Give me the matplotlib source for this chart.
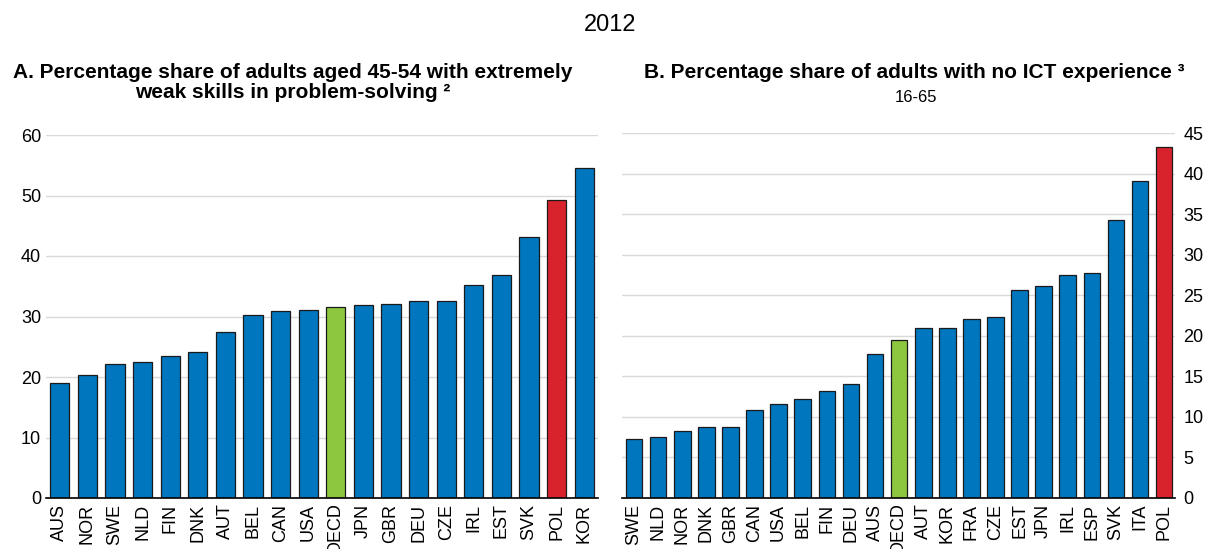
import matplotlib
matplotlib.use('Agg')
import matplotlib.pyplot as plt
import numpy as np

plt.rcParams['font.family'] = ['Liberation Sans', 'DejaVu Sans']

# panel A: adults aged 45-54 with extremely weak problem-solving skills
countries_a = ['AUS', 'NOR', 'SWE', 'NLD', 'FIN', 'DNK', 'AUT', 'BEL', 'CAN', 'USA',
               'OECD', 'JPN', 'GBR', 'DEU', 'CZE', 'IRL', 'EST', 'SVK', 'POL', 'KOR']
values_a = [19.0, 20.3, 22.2, 22.4, 23.5, 24.2, 27.5, 30.3, 30.9, 31.0,
            31.5, 31.9, 32.1, 32.5, 32.6, 35.2, 36.8, 43.1, 49.2, 54.5]

# panel B: adults with no ICT experience, 16-65
countries_b = ['SWE', 'NLD', 'NOR', 'DNK', 'GBR', 'CAN', 'USA', 'BEL', 'FIN', 'DEU',
               'AUS', 'OECD', 'AUT', 'KOR', 'FRA', 'CZE', 'EST', 'JPN', 'IRL', 'ESP',
               'SVK', 'ITA', 'POL']
values_b = [7.3, 7.5, 8.3, 8.8, 8.8, 10.8, 11.6, 12.2, 13.2, 14.0,
            17.7, 19.5, 20.9, 20.9, 22.1, 22.3, 25.7, 26.1, 27.5, 27.7,
            34.3, 39.1, 43.3]

BLUE = '#0076BF'
GREEN = '#8DC63F'
RED = '#D9232C'


def bar_colours(names):
    cols = []
    for n in names:
        if n == 'OECD':
            cols.append(GREEN)
        elif n == 'POL':
            cols.append(RED)
        else:
            cols.append(BLUE)
    return cols


def draw_panel(ax, names, vals, ymax, step, xmax):
    x = np.arange(len(names))
    ax.bar(x, vals, width=0.69, color=bar_colours(names), edgecolor='#1a1a1a',
           linewidth=0.9, zorder=3)
    ax.set_xlim(-0.5, xmax)
    ax.set_ylim(0, ymax)
    ax.set_yticks(np.arange(0, ymax + 0.1, step))
    ax.set_xticks(x)
    ax.set_xticklabels(names, rotation=90, fontsize=12.5)
    ax.tick_params(axis='both', length=0, labelsize=13)
    ax.tick_params(axis='x', pad=4)
    ax.grid(axis='y', color='#d9d9d9', linewidth=1.0, zorder=0)
    for s in ['top', 'right', 'left']:
        ax.spines[s].set_visible(False)
    ax.spines['bottom'].set_color('black')
    ax.spines['bottom'].set_linewidth(1.2)
    ax.spines['bottom'].set_zorder(4)


fig = plt.figure(figsize=(12.08, 5.49), dpi=100)

ax_a = fig.add_axes([46 / 1208, 1 - 498 / 549, (598 - 46) / 1208, (498 - 135) / 549])
draw_panel(ax_a, countries_a, values_a, 60, 10, 19.5)

ax_b = fig.add_axes([622 / 1208, 1 - 498 / 549, (1175 - 622) / 1208, (498 - 133) / 549])
draw_panel(ax_b, countries_b, values_b, 45, 5, 22.45)
ax_b.yaxis.tick_right()
ax_b.tick_params(axis='y', pad=6)

fig.text(610 / 1208, 1 - 25 / 549, '2012', ha='center', va='center', fontsize=17)

fig.text(293 / 1208, 1 - 72 / 549, 'A. Percentage share of adults aged 45-54 with extremely',
         ha='center', va='center', fontsize=15, fontweight='bold')
fig.text(293 / 1208, 1 - 93 / 549, 'weak skills in problem-solving \u00b2',
         ha='center', va='center', fontsize=15, fontweight='bold')

fig.text(914 / 1208, 1 - 73 / 549, 'B. Percentage share of adults with no ICT experience \u00b3',
         ha='center', va='center', fontsize=15, fontweight='bold')
fig.text(916 / 1208, 1 - 97 / 549, '16-65', ha='center', va='center', fontsize=12)

fig.savefig('out.png', dpi=100)
